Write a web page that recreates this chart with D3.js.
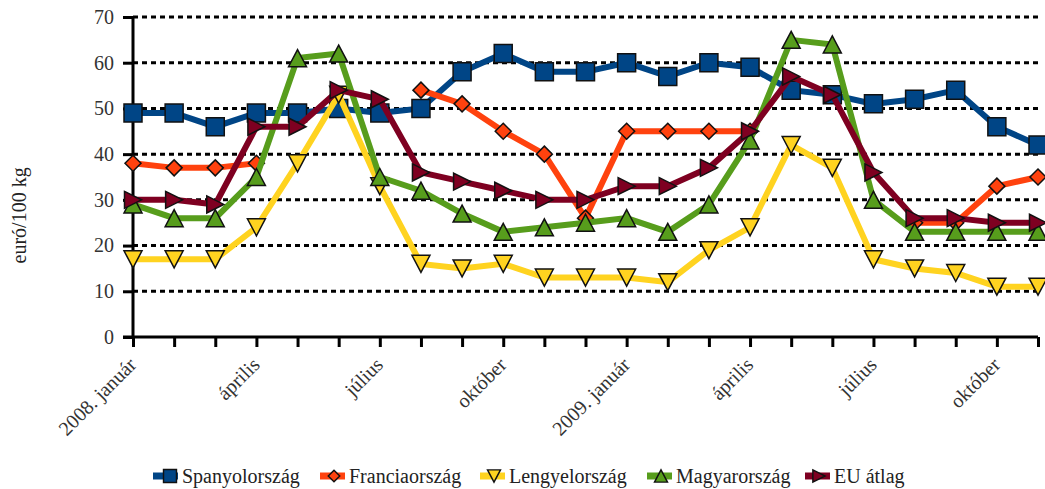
<!DOCTYPE html>
<html>
<head>
<meta charset="utf-8">
<script src="https://cdn.jsdelivr.net/npm/d3@7"></script>
<style>
  body { margin: 0; background: #fff; }
  svg { display: block; font-family: 'Liberation Serif', serif; }
</style>
</head>
<body>
<div id="root"></div>
<script>
// Categories (months, 2008 Jan - 2009 Nov)
const months = ['2008. január', 'február', 'március', 'április', 'május', 'június',
  'július', 'augusztus', 'szeptember', 'október', 'november', 'december',
  '2009. január', 'február', 'március', 'április', 'május', 'június',
  'július', 'augusztus', 'szeptember', 'október', 'november'];

// Series values (euró/100 kg)
const spain = [49, 49, 46, 49, 49, 50, 49, 50, 58, 62, 58, 58, 60, 57, 60, 59, 54, 53, 51, 52, 54, 46, 42];
const france = [38, 37, 37, 38, null, null, null, 54, 51, 45, 40, 26, 45, 45, 45, 45, null, null, null, 25, 25, 33, 35];
const poland = [17, 17, 17, 24, 38, 53, 33, 16, 15, 16, 13, 13, 13, 12, 19, 24, 42, 37, 17, 15, 14, 11, 11];
const hungary = [29, 26, 26, 35, 61, 62, 35, 32, 27, 23, 24, 25, 26, 23, 29, 43, 65, 64, 30, 23, 23, 23, 23];
const eu = [30, 30, 29, 46, 46, 54, 52, 36, 34, 32, 30, 30, 33, 33, 37, 45, 57, 53, 36, 26, 26, 25, 25];

const seriesNames = ['Spanyolország', 'Franciaország', 'Lengyelország', 'Magyarország', 'EU átlag'];
const yTicks = [0, 10, 20, 30, 40, 50, 60, 70];

// Layout
const width = 1045;
const height = 489;
const margin = {top: 17, right: 5, bottom: 152, left: 133};
const plotW = width - margin.left - margin.right;
const plotH = height - margin.top - margin.bottom;

// Marker shapes (centred on their bounding box)
const square = {draw(ctx) { const h = 9; ctx.rect(-h, -h, 2 * h, 2 * h); }};
const diamond = {draw(ctx) { const h = 8; ctx.moveTo(0, -h); ctx.lineTo(h, 0); ctx.lineTo(0, h); ctx.lineTo(-h, 0); ctx.closePath(); }};
const triDown = {draw(ctx) { ctx.moveTo(-9, -8.5); ctx.lineTo(9, -8.5); ctx.lineTo(0, 8.5); ctx.closePath(); }};
const triUp = {draw(ctx) { ctx.moveTo(-9, 8.5); ctx.lineTo(9, 8.5); ctx.lineTo(0, -8.5); ctx.closePath(); }};
const triRight = {draw(ctx) { ctx.moveTo(-8.5, -8.5); ctx.lineTo(8.5, 0); ctx.lineTo(-8.5, 8.5); ctx.closePath(); }};

const series = [
  {name: seriesNames[0], values: spain, color: '#004586', shape: square},
  {name: seriesNames[1], values: france, color: '#ff420e', shape: diamond},
  {name: seriesNames[2], values: poland, color: '#ffd320', shape: triDown},
  {name: seriesNames[3], values: hungary, color: '#579d1c', shape: triUp},
  {name: seriesNames[4], values: eu, color: '#7e0021', shape: triRight}
];

const svg = d3.select('#root')
  .append('svg')
  .attr('width', width)
  .attr('height', height);

const g = svg.append('g')
  .attr('transform', `translate(${margin.left},${margin.top})`);

// Scales
const x = d3.scalePoint()
  .domain(d3.range(months.length))
  .range([0, plotW - 2]);

const y = d3.scaleLinear()
  .domain([0, 70])
  .range([plotH, 0]);

// Grid lines
g.append('g')
  .selectAll('line')
  .data(yTicks.filter(d => d > 0))
  .enter()
    .append('line')
    .attr('x1', 0)
    .attr('x2', plotW - 2)
    .attr('y1', d => y(d))
    .attr('y2', d => y(d))
    .attr('stroke', '#000')
    .attr('stroke-width', 3)
    .attr('stroke-dasharray', '5,4');

// Y axis
const yAxis = g.append('g')
  .call(d3.axisLeft(y).tickValues(yTicks).tickSize(10).tickPadding(9));
yAxis.select('.domain').attr('stroke-width', 3).attr('d', `M0,${plotH}V0`);
yAxis.selectAll('.tick line').attr('stroke-width', 3);
yAxis.selectAll('text')
  .style('font-family', 'Liberation Serif')
  .style('font-size', '20px')
  .attr('fill', '#333');

// X axis
const xAxis = g.append('g')
  .attr('transform', `translate(0,${plotH})`)
  .call(d3.axisBottom(x).tickSize(10).tickFormat(i => i % 3 === 0 ? months[i] : ''));
xAxis.select('.domain').attr('stroke-width', 3).attr('d', `M-10,0H${plotW - 2}`);
xAxis.selectAll('.tick line').attr('stroke-width', 3);
xAxis.selectAll('text')
  .style('font-family', 'Liberation Serif')
  .style('font-size', '20px')
  .attr('fill', '#333')
  .attr('text-anchor', 'end')
  .attr('x', 0)
  .attr('y', 0)
  .attr('dy', 0)
  .attr('transform', 'translate(4,29) rotate(-45)');

// Y axis title
svg.append('text')
  .attr('transform', `translate(26,${margin.top + plotH * 0.62}) rotate(-90)`)
  .attr('text-anchor', 'middle')
  .style('font-size', '20px')
  .attr('fill', '#222')
  .text('euró/100 kg');

// Lines and markers
const line = d3.line()
  .defined(d => d !== null)
  .x((d, i) => x(i))
  .y(d => y(d));

series.forEach(s => {
  const sg = g.append('g');

  sg.append('path')
    .datum(s.values)
    .attr('fill', 'none')
    .attr('stroke', s.color)
    .attr('stroke-width', 6)
    .attr('d', line);

  sg.selectAll('path.marker')
    .data(s.values.map((v, i) => ({v, i})).filter(d => d.v !== null))
    .enter()
      .append('path')
      .attr('class', 'marker')
      .attr('d', d3.symbol().type(s.shape))
      .attr('transform', d => `translate(${x(d.i)},${y(d.v)})`)
      .attr('fill', s.color)
      .attr('stroke', '#111')
      .attr('stroke-width', 1.5);
});

// Legend
const legendX = [153, 320, 480, 647, 805];
const legend = svg.append('g')
  .attr('transform', 'translate(0,476)');

const items = legend.selectAll('g')
  .data(series)
  .enter()
    .append('g')
    .attr('transform', (d, i) => `translate(${legendX[i]},0)`);

items.append('line')
  .attr('x1', 0)
  .attr('x2', 25)
  .attr('stroke', d => d.color)
  .attr('stroke-width', 7);

items.append('path')
  .attr('d', d => d3.symbol().type(d.shape)())
  .attr('transform', (d, i) => `translate(${i === 0 ? 17 : 14},0) scale(0.72)`)
  .attr('fill', d => d.color)
  .attr('stroke', '#111')
  .attr('stroke-width', 2);

items.append('text')
  .attr('x', 29)
  .attr('y', 7)
  .style('font-size', '20px')
  .attr('fill', '#222')
  .text(d => d.name);
</script>
</body>
</html>
